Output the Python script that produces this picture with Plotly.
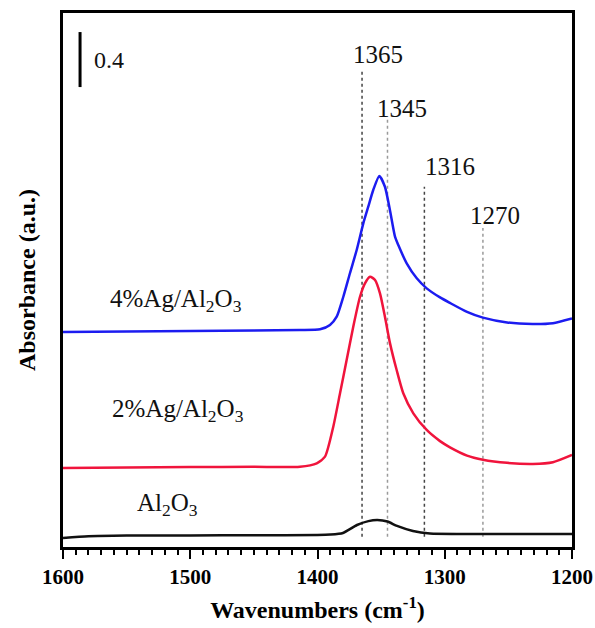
import plotly.graph_objects as go

# Wavenumber grid (cm-1) and absorbance traces (offset for stacking)
wn_al2o3 = [1600, 1580, 1550, 1500, 1450, 1400, 1390, 1380, 1369, 1360, 1353, 1345, 1337.5, 1325, 1311.6, 1285.7, 1250, 1200]
abs_al2o3 = [0.065, 0.078, 0.083, 0.084, 0.086, 0.087, 0.090, 0.102, 0.160, 0.188, 0.196, 0.185, 0.153, 0.116, 0.098, 0.095, 0.095, 0.095]

wn_ag2 = [1600, 1550, 1500, 1450, 1413.8, 1400.6, 1394.1, 1387.6, 1382.3, 1377.1, 1371.9, 1366.6, 1362.7,
          1358.7, 1354.8, 1350.9, 1347.0, 1343.0, 1337.8, 1332.6, 1324.7, 1314.2, 1303.7, 1295.9, 1282.5,
          1270, 1251, 1230.7, 1215, 1200]
abs_ag2 = [0.575, 0.579, 0.581, 0.583, 0.584, 0.609, 0.657, 0.875, 1.118, 1.360, 1.602, 1.820, 1.918,
           1.966, 1.942, 1.845, 1.675, 1.481, 1.287, 1.118, 0.972, 0.851, 0.770, 0.725, 0.665,
           0.635, 0.612, 0.604, 0.616, 0.669]

wn_ag4 = [1600, 1550, 1500, 1450, 1413.8, 1398.0, 1390.2, 1384.9, 1379.7, 1374.5, 1369.2, 1364.0, 1360.1,
          1356.2, 1351.4, 1347.0, 1343.1, 1339.1, 1336.5, 1329.9, 1322.0, 1314.2, 1303.7, 1295.9, 1282.5,
          1270, 1251, 1231, 1215, 1200]
abs_ag4 = [1.564, 1.568, 1.571, 1.574, 1.578, 1.583, 1.615, 1.675, 1.820, 1.991, 2.160, 2.354, 2.475,
           2.596, 2.698, 2.620, 2.451, 2.257, 2.196, 2.063, 1.954, 1.881, 1.815, 1.775, 1.710,
           1.668, 1.633, 1.622, 1.628, 1.662]

# Band assignments: position and top of the guide line
band_pos = [1365, 1345, 1316, 1270]
band_top = [3.47, 3.11, 2.62, 2.32]
band_label_y = [3.58, 3.19, 2.77, 2.41]
band_label_x = [1352.5, 1333.6, 1295.9, 1260.5]
band_color = ["#444444", "#9a9a9a", "#444444", "#9a9a9a"]
guide_bottom = 0.075

sample_names = ["4%Ag/Al<sub>2</sub>O<sub>3</sub>", "2%Ag/Al<sub>2</sub>O<sub>3</sub>", "Al<sub>2</sub>O<sub>3</sub>"]
sample_x = [1511, 1510, 1517.5]
sample_y = [1.79, 0.99, 0.31]

scale_bar = 0.4
scale_bar_x = 1586.6
scale_bar_low = 3.345

tick_vals = [1600, 1500, 1400, 1300, 1200]

FONT = "Liberation Serif"

fig = go.Figure()

for x0, top, col in zip(band_pos, band_top, band_color):
    fig.add_trace(go.Scatter(
        x=[x0, x0], y=[guide_bottom, top], mode="lines",
        line=dict(color=col, width=1.5, dash="dot"),
        hoverinfo="skip", showlegend=False))

for wn, ab, col in [(wn_al2o3, abs_al2o3, "#111111"),
                    (wn_ag2, abs_ag2, "#f0143c"),
                    (wn_ag4, abs_ag4, "#1c1cf0")]:
    fig.add_trace(go.Scatter(
        x=wn, y=ab, mode="lines",
        line=dict(color=col, width=2.5, shape="spline", smoothing=0.6),
        showlegend=False))

# Absorbance scale bar
fig.add_trace(go.Scatter(
    x=[scale_bar_x, scale_bar_x], y=[scale_bar_low, scale_bar_low + scale_bar],
    mode="lines", line=dict(color="black", width=3), showlegend=False))
fig.add_annotation(x=1577.2, y=scale_bar_low + scale_bar / 2, text=f"{scale_bar}",
                   showarrow=False, xanchor="left", yanchor="middle",
                   font=dict(family=FONT, size=24, color="#111"))

for lx, ly, val in zip(band_label_x, band_label_y, band_pos):
    fig.add_annotation(x=lx, y=ly, text=str(val), showarrow=False,
                       xanchor="center", yanchor="middle",
                       font=dict(family=FONT, size=25, color="#111"))

for sx, sy, name in zip(sample_x, sample_y, sample_names):
    fig.add_annotation(x=sx, y=sy, text=name, showarrow=False,
                       xanchor="center", yanchor="middle",
                       font=dict(family=FONT, size=25, color="#111"))

fig.update_xaxes(
    range=[1600, 1200], tickvals=tick_vals, ticks="outside", ticklen=9, tickwidth=2,
    tickcolor="black", showline=True, linecolor="black", linewidth=2.5, mirror=True,
    showgrid=False, zeroline=False, automargin=False,
    minor=dict(dtick=10, tick0=1200, ticks="outside", ticklen=5, tickwidth=1.5, tickcolor="black"),
    tickfont=dict(family=FONT, size=21, color="black", weight="bold"),
    title=dict(text="Wavenumbers (cm<sup>-1</sup>)", standoff=14,
               font=dict(family=FONT, size=24, color="black", weight="bold")))

fig.update_yaxes(
    range=[0, 3.8836], showticklabels=False, ticks="", showline=True, linecolor="black",
    linewidth=2.5, mirror=True, showgrid=False, zeroline=False, automargin=False,
    title=dict(text="Absorbance (a.u.)", standoff=18,
               font=dict(family=FONT, size=24, color="black", weight="bold")))

fig.update_layout(
    width=595, height=628, plot_bgcolor="white", paper_bgcolor="white",
    margin=dict(l=63, r=23, t=13, b=81), showlegend=False)

fig.write_html("out.html")
